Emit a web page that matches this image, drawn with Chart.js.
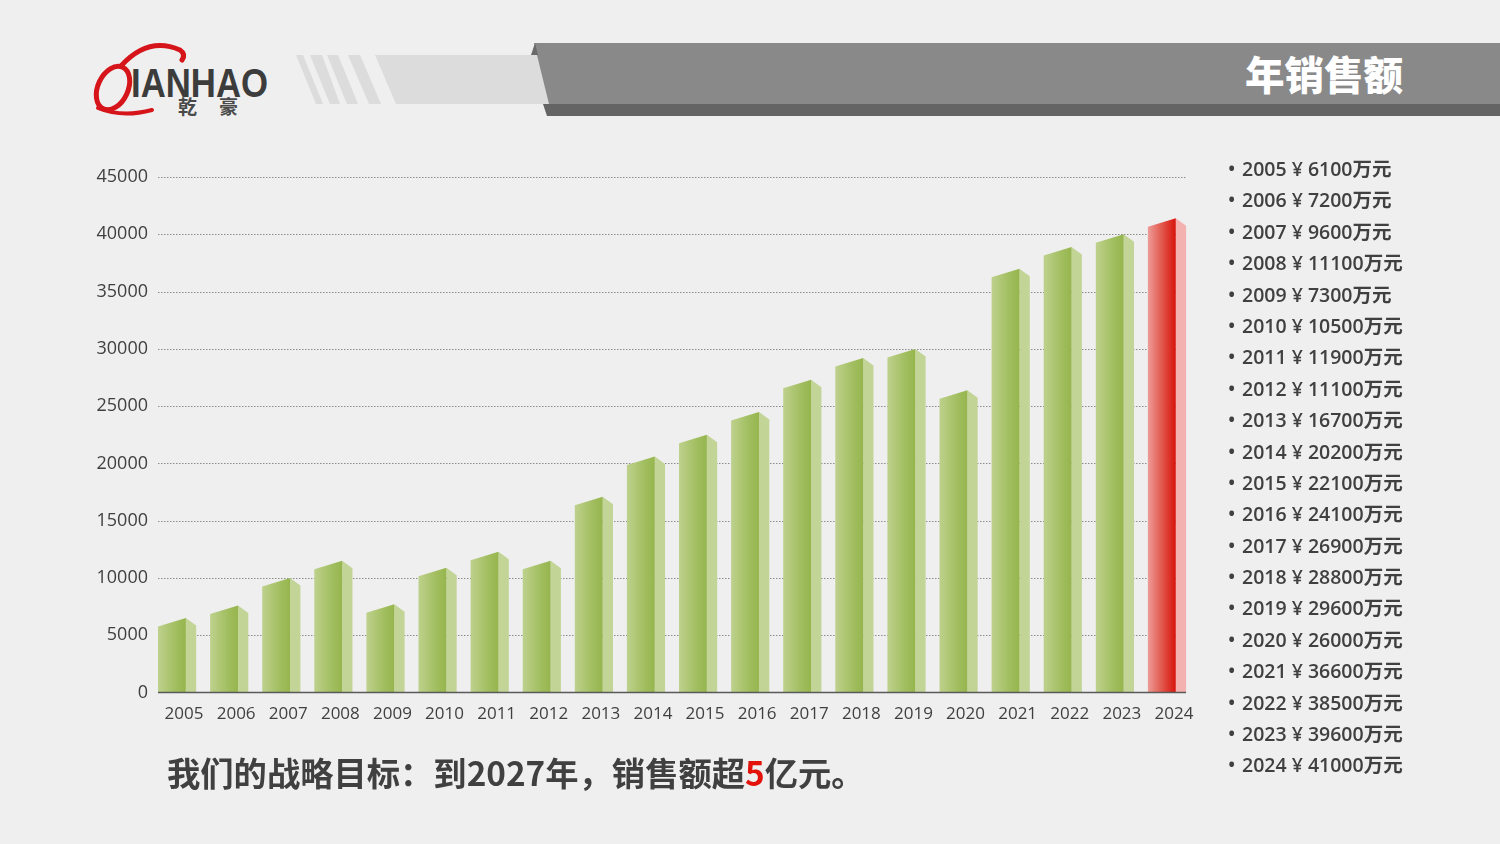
<!DOCTYPE html>
<html lang="zh-CN">
<head>
<meta charset="utf-8">
<title>年销售额</title>
<script src="https://cdn.jsdelivr.net/npm/chart.js@4.4.1/dist/chart.umd.min.js"></script>
<style>
  html, body { margin: 0; padding: 0; }
  body { width: 1500px; height: 844px; background: #efefef; position: relative; overflow: hidden;
         font-family: "Open Sans", "Noto Sans CJK SC", sans-serif; }
  #deco { position: absolute; left: 0; top: 0; }
  #chart-wrap { position: absolute; left: 0; top: 0; width: 1500px; height: 844px; }
  .title { position: absolute; right: 97px; top: 48px; height: 50px; line-height: 50px;
           font-family: "Noto Sans CJK SC", sans-serif; font-weight: 900; font-size: 39.5px; color: #fff; }
  .goal { position: absolute; left: 167px; top: 747px; font-family: "Noto Sans CJK SC", sans-serif;
          font-weight: 700; font-size: 33.3px; color: #404040; white-space: nowrap; }
  .goal .hl { color: #e3120b; }
  #list { position: absolute; left: 1228px; top: 153px; margin: 0; padding: 0; list-style: none; }
  #list li { height: 31.4px; line-height: 31.4px; font-size: 19.5px; font-weight: 600; color: #404040; white-space: nowrap; }
  #list li .dot { display: inline-block; width: 14px; }
</style>
</head>
<body>

<svg id="deco" width="1500" height="844" xmlns="http://www.w3.org/2000/svg">
  <!-- stripes and light band -->
  <g fill="#dcdcdc">
    <polygon points="296,55 303,55 323,104 316,104"/>
    <polygon points="310,55 322,55 340,104 330,104"/>
    <polygon points="327,55 338,55 358,104 347,104"/>
    <polygon points="348,55 360,55 381,104 369,104"/>
    <polygon points="375,55 560,55 560,104 396,104"/>
  </g>
  <!-- grey title band -->
  <polygon points="543,104 1500,104 1500,116 547,116" fill="#656464"/>
  <polygon points="534,43 1500,43 1500,104 549,104" fill="#898989"/>
  <polygon points="531,55 535,43 538,55" fill="#6a6a6a"/>

  <!-- logo -->
  <g fill="none" stroke="#d6151b" stroke-linecap="round">
    <ellipse cx="113" cy="88" rx="15" ry="23" transform="rotate(25 113 88)" stroke-width="5"/>
    <path d="M121 66 Q148 36 180 50 Q186 54 182 60" stroke-width="5"/>
    <path d="M98 108 Q122 118 152 110" stroke-width="4"/>
  </g>
  <text x="131" y="97" font-family="Liberation Sans, Arial, sans-serif" font-weight="bold" font-size="40"
        fill="#3c3c3c" textLength="137" lengthAdjust="spacingAndGlyphs">IANHAO</text>
  <text x="178" y="114" font-family="Noto Sans CJK SC, sans-serif" font-weight="bold" font-size="19"
        fill="#4a4a4a">乾</text>
  <text x="219" y="114" font-family="Noto Sans CJK SC, sans-serif" font-weight="bold" font-size="19"
        fill="#4a4a4a">豪</text>
</svg>

<div class="title">年销售额</div>

<div id="chart-wrap"><canvas id="chart-sales"></canvas></div>

<ul id="list"></ul>

<div class="goal">我们的战略目标：到2027年，销售额超<span class="hl">5</span>亿元。</div>

<script>
'use strict';

/* ── Data ─────────────────────────────────────────────────── */
const years = ['2005','2006','2007','2008','2009','2010','2011','2012','2013','2014',
               '2015','2016','2017','2018','2019','2020','2021','2022','2023','2024'];
const sales = [6100, 7200, 9600, 11100, 7300, 10500, 11900, 11100, 16700, 20200,
               22100, 24100, 26900, 28800, 29600, 26000, 36600, 38500, 39600, 41000];
const yTicks = [0, 5000, 10000, 15000, 20000, 25000, 30000, 35000, 40000, 45000];
const highlightYear = '2024';

/* ── Side list ────────────────────────────────────────────── */
document.getElementById('list').innerHTML = years.map((y, i) =>
  `<li><span class="dot">•</span>${y} ¥ ${sales[i]}万元</li>`).join('');

/* ── 3D column plugin ─────────────────────────────────────── */
const GREEN = { a: '#bed18d', b: '#a3bf62', c: '#96b54d', side: '#c3d497' };
const RED   = { a: '#ec9c97', b: '#e04a3e', c: '#d8130c', side: '#f3b2b0' };

function barGeom(el, xScale) {
  const catW = xScale.getPixelForValue(1) - xScale.getPixelForValue(0);
  const left = el.x - catW / 2;
  return { left, front: catW * 0.535, side: catW * 0.198 };
}

const bar3d = {
  id: 'bar3d',
  beforeDatasetsDraw(chart) {
    const { ctx, chartArea, scales: { x, y } } = chart;
    const meta = chart.getDatasetMeta(0);
    const last = barGeom(meta.data[meta.data.length - 1], x);
    const right = last.left + last.front + last.side;
    ctx.save();
    ctx.strokeStyle = '#8c8c8c';
    ctx.lineWidth = 1;
    ctx.setLineDash([1.5, 1.5]);
    yTicks.slice(1).forEach(v => {
      const py = Math.round(y.getPixelForValue(v)) + 0.5;
      ctx.beginPath();
      ctx.moveTo(chartArea.left, py);
      ctx.lineTo(right, py);
      ctx.stroke();
    });
    ctx.restore();
  },
  afterDatasetsDraw(chart) {
    const { ctx, chartArea, scales: { x, y } } = chart;
    const meta = chart.getDatasetMeta(0);
    ctx.save();
    meta.data.forEach((el, i) => {
      const g = barGeom(el, x);
      const c = years[i] === highlightYear ? RED : GREEN;
      const top = el.y, base = el.base;
      const fr = g.left + g.front, sr = fr + g.side;
      // side face
      ctx.fillStyle = c.side;
      ctx.beginPath();
      ctx.moveTo(fr, top - 4.5);
      ctx.lineTo(sr, top + 3);
      ctx.lineTo(sr, base);
      ctx.lineTo(fr, base);
      ctx.closePath();
      ctx.fill();
      // front face
      const grad = ctx.createLinearGradient(g.left, 0, fr, 0);
      grad.addColorStop(0, c.a);
      grad.addColorStop(0.6, c.b);
      grad.addColorStop(1, c.c);
      ctx.fillStyle = grad;
      ctx.beginPath();
      ctx.moveTo(g.left, top + 4);
      ctx.lineTo(fr, top - 4.5);
      ctx.lineTo(fr, base);
      ctx.lineTo(g.left, base);
      ctx.closePath();
      ctx.fill();
    });
    // baseline
    const last = barGeom(meta.data[meta.data.length - 1], x);
    const by = y.getPixelForValue(0);
    ctx.strokeStyle = '#5a5a5a';
    ctx.lineWidth = 1.5;
    ctx.beginPath();
    ctx.moveTo(chartArea.left, by);
    ctx.lineTo(last.left + last.front + last.side, by);
    ctx.stroke();
    ctx.restore();
  }
};

/* ── Chart ────────────────────────────────────────────────── */
new Chart(document.getElementById('chart-sales'), {
  type: 'bar',
  data: {
    labels: years,
    datasets: [{
      label: '年销售额',
      data: sales,
      backgroundColor: 'rgba(0,0,0,0)',
      barPercentage: 1,
      categoryPercentage: 1,
    }]
  },
  options: {
    responsive: true, maintainAspectRatio: false,
    animation: false,
    layout: { padding: { left: 0, right: 300, top: 177, bottom: 111.5 } },
    plugins: { legend: { display: false }, tooltip: { enabled: false } },
    scales: {
      x: {
        grid: { display: false, drawTicks: false },
        border: { display: false },
        ticks: { color: '#404040', font: { family: 'Open Sans', size: 17 }, padding: 11,
                 autoSkip: false, maxRotation: 0 },
        afterFit: s => { s.height = 40; }
      },
      y: {
        min: 0, max: 45000,
        grid: { display: false, drawTicks: false },
        border: { display: false },
        ticks: { stepSize: 5000, color: '#404040', font: { family: 'Open Sans', size: 18 }, padding: 10,
                 callback: v => String(v) },
        afterFit: s => { s.width = 158; }
      }
    }
  },
  plugins: [bar3d]
});
</script>
</body>
</html>
